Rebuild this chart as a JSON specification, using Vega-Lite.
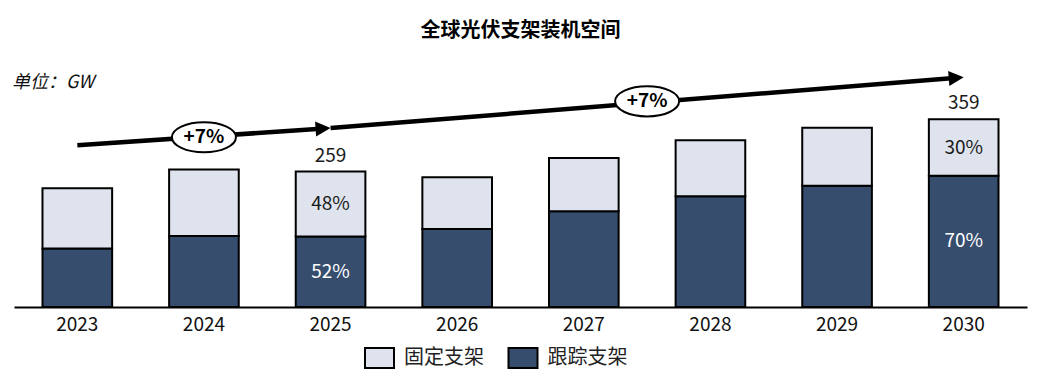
{
  "$schema": "https://vega.github.io/schema/vega-lite/v6.json",
  "width": 1013,
  "height": 251,
  "autosize": {"type": "none"},
  "padding": {"left": 14, "right": 11, "top": 56, "bottom": 78},
  "background": "white",
  "title": {"text": "全球光伏支架装机空间", "anchor": "middle", "frame": "group", "font": "Noto Sans CJK SC", "fontSize": 20, "fontWeight": "bold", "color": "#000000", "offset": 15},
  "config": {"view": {"stroke": null}, "font": "Noto Sans CJK SC", "axis": {"grid": false}},
  "datasets": {
    "bars": [
      {"year": 2023, "type": "跟踪支架", "value": 112},
      {"year": 2023, "type": "固定支架", "value": 115},
      {"year": 2024, "type": "跟踪支架", "value": 136},
      {"year": 2024, "type": "固定支架", "value": 127},
      {"year": 2025, "type": "跟踪支架", "value": 135, "pct": "52%"},
      {"year": 2025, "type": "固定支架", "value": 124, "pct": "48%"},
      {"year": 2026, "type": "跟踪支架", "value": 149},
      {"year": 2026, "type": "固定支架", "value": 99},
      {"year": 2027, "type": "跟踪支架", "value": 183},
      {"year": 2027, "type": "固定支架", "value": 102},
      {"year": 2028, "type": "跟踪支架", "value": 212},
      {"year": 2028, "type": "固定支架", "value": 107},
      {"year": 2029, "type": "跟踪支架", "value": 232},
      {"year": 2029, "type": "固定支架", "value": 111},
      {"year": 2030, "type": "跟踪支架", "value": 251, "pct": "70%"},
      {"year": 2030, "type": "固定支架", "value": 108, "pct": "30%"}
    ],
    "arrows": [
      {"seg": "a", "x": 2023.0, "y": 309.2},
      {"seg": "a", "x": 2024.95, "y": 341.4},
      {"seg": "b", "x": 2025.0, "y": 342.2},
      {"seg": "b", "x": 2029.95, "y": 438.2}
    ],
    "heads": [
      {"seg": "a", "x": 2025.0, "y": 342.2},
      {"seg": "b", "x": 2030.0, "y": 439.2}
    ],
    "tags": [
      {"x": 2024.0, "y": 324.5, "text": "+7%"},
      {"x": 2027.5, "y": 393.3, "text": "+7%"}
    ],
    "notes": [
      {"x": 2022.5, "y": 428, "text": "单位：GW"}
    ]
  },
  "resolve": {"scale": {"x": "independent"}},
  "layer": [
    {
      "data": {"name": "bars"},
      "mark": {"type": "bar", "stroke": "black", "strokeWidth": 2},
      "encoding": {
        "x": {"field": "year", "type": "ordinal", "scale": {"paddingInner": 0.45, "paddingOuter": 0.225},
          "axis": {"title": null, "labelAngle": 0, "labelFontSize": 19, "labelColor": "#111111", "labelFont": "Noto Sans CJK SC", "ticks": false, "domainColor": "black", "domainWidth": 2, "labelPadding": 8}},
        "y": {"field": "value", "type": "quantitative", "stack": "zero", "scale": {"domain": [0, 480], "nice": false}, "axis": null},
        "color": {"field": "type", "type": "nominal",
          "scale": {"domain": ["固定支架", "跟踪支架"], "range": ["#dee3ed", "#364d6e"]},
          "legend": {"title": null, "orient": "none", "legendX": 354.5, "legendY": 291, "direction": "horizontal",
            "symbolType": "M-1.45,-1H1.45V1H-1.45Z", "symbolSize": 400, "symbolStrokeColor": "black", "symbolStrokeWidth": 2, "symbolOpacity": 1,
            "labelFontSize": 20, "labelFont": "Noto Sans CJK SC", "labelColor": "#222222", "labelOffset": 13.5, "columnPadding": 19.5}},
        "order": {"field": "type", "sort": "descending"}
      }
    },
    {
      "data": {"name": "bars"},
      "transform": [
        {"stack": "value", "groupby": ["year"], "sort": [{"field": "type", "order": "descending"}], "as": ["v0", "v1"]},
        {"calculate": "(datum.v0 + datum.v1) / 2", "as": "mid"},
        {"filter": "datum.pct"}
      ],
      "mark": {"type": "text", "fontSize": 19, "baseline": "middle", "align": "center"},
      "encoding": {
        "x": {"field": "year", "type": "quantitative", "scale": {"domain": [2022.5, 2030.5], "nice": false, "zero": false}, "axis": null},
        "y": {"field": "mid", "type": "quantitative", "scale": {"domain": [0, 480], "nice": false}, "axis": null},
        "text": {"field": "pct"},
        "color": {"condition": {"test": "datum.type === '跟踪支架'", "value": "white"}, "value": "#1a1a1a"}
      }
    },
    {
      "data": {"name": "bars"},
      "transform": [
        {"filter": "datum.year == 2025 || datum.year == 2030"},
        {"aggregate": [{"op": "sum", "field": "value", "as": "total"}], "groupby": ["year"]}
      ],
      "mark": {"type": "text", "fontSize": 19, "baseline": "middle", "align": "center", "dy": -16, "color": "#1a1a1a"},
      "encoding": {
        "x": {"field": "year", "type": "quantitative", "scale": {"domain": [2022.5, 2030.5], "nice": false, "zero": false}, "axis": null},
        "y": {"field": "total", "type": "quantitative", "scale": {"domain": [0, 480], "nice": false}, "axis": null},
        "text": {"field": "total", "type": "quantitative", "format": "d"}
      }
    },
    {
      "data": {"name": "arrows"},
      "mark": {"type": "line", "color": "black", "strokeWidth": 4.5, "strokeCap": "butt"},
      "encoding": {
        "x": {"field": "x", "type": "quantitative", "scale": {"domain": [2022.5, 2030.5], "nice": false, "zero": false}, "axis": null},
        "y": {"field": "y", "type": "quantitative", "scale": {"domain": [0, 480], "nice": false}, "axis": null},
        "detail": {"field": "seg"}
      }
    },
    {
      "data": {"name": "heads"},
      "mark": {"type": "point", "filled": true, "color": "black", "opacity": 1, "shape": "M-2,-1L0,0L-2,1Z", "size": 225},
      "encoding": {
        "x": {"field": "x", "type": "quantitative", "scale": {"domain": [2022.5, 2030.5], "nice": false, "zero": false}, "axis": null},
        "y": {"field": "y", "type": "quantitative", "scale": {"domain": [0, 480], "nice": false}, "axis": null},
        "angle": {"condition": {"test": "datum.seg === 'a'", "value": -3.9}, "value": -4.6}
      }
    },
    {
      "data": {"name": "tags"},
      "mark": {"type": "point", "filled": true, "fill": "white", "stroke": "black", "strokeWidth": 2, "opacity": 1,
        "shape": "M-1,0C-1,-0.26 -0.552,-0.47 0,-0.47C0.552,-0.47 1,-0.26 1,0C1,0.26 0.552,0.47 0,0.47C-0.552,0.47 -1,0.26 -1,0Z", "size": 4096},
      "encoding": {
        "x": {"field": "x", "type": "quantitative", "scale": {"domain": [2022.5, 2030.5], "nice": false, "zero": false}, "axis": null},
        "y": {"field": "y", "type": "quantitative", "scale": {"domain": [0, 480], "nice": false}, "axis": null}
      }
    },
    {
      "data": {"name": "tags"},
      "mark": {"type": "text", "fontSize": 19, "fontWeight": "bold", "baseline": "middle", "align": "center", "color": "#000000"},
      "encoding": {
        "x": {"field": "x", "type": "quantitative", "scale": {"domain": [2022.5, 2030.5], "nice": false, "zero": false}, "axis": null},
        "y": {"field": "y", "type": "quantitative", "scale": {"domain": [0, 480], "nice": false}, "axis": null},
        "text": {"field": "text"}
      }
    },
    {
      "data": {"name": "notes"},
      "mark": {"type": "text", "fontSize": 18, "fontStyle": "italic", "baseline": "middle", "align": "left", "dx": -2, "color": "#111111"},
      "encoding": {
        "x": {"field": "x", "type": "quantitative", "scale": {"domain": [2022.5, 2030.5], "nice": false, "zero": false}, "axis": null},
        "y": {"field": "y", "type": "quantitative", "scale": {"domain": [0, 480], "nice": false}, "axis": null},
        "text": {"field": "text"}
      }
    }
  ]
}
